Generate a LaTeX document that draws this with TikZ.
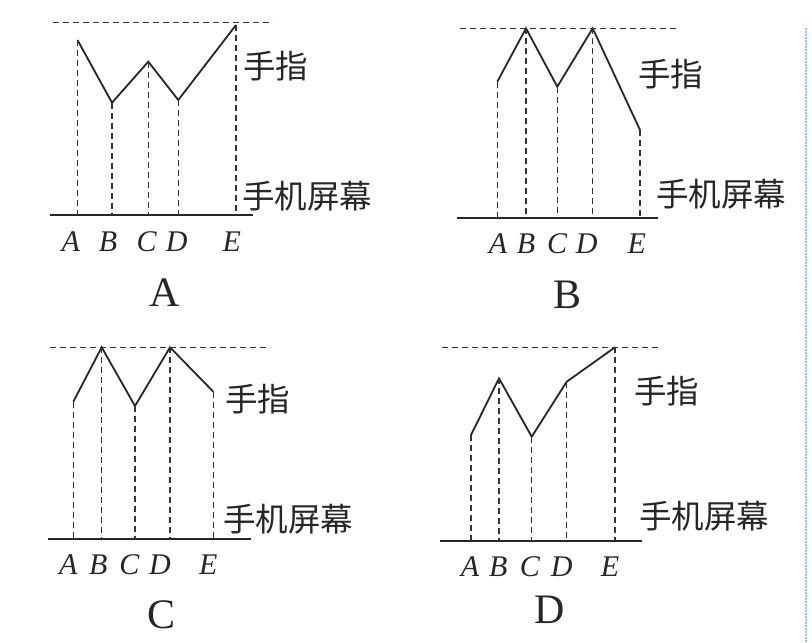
\documentclass[tikz,border=0pt]{standalone}
\usepackage{fontspec}
\setmainfont{Liberation Serif}
\newfontfamily\cjk{Noto Sans CJK SC}
\begin{document}
\begin{tikzpicture}[x=1pt,y=-1pt,
  finger/.style={line width=1.8pt,line join=miter,draw=black!85},
  guide/.style={dash pattern=on 6pt off 4pt,line width=1.5pt,draw=black!80},
  screen/.style={line width=2pt,draw=black!85},
  ptlab/.style={inner sep=0pt,font=\fontsize{30}{36}\selectfont\itshape,text=black!85},
  capt/.style={inner sep=0pt,font=\fontsize{42}{48}\selectfont,text=black!85},
  cjklab/.style={inner sep=0pt,anchor=west,font=\cjk\fontsize{32.5}{38}\selectfont,text=black!85},
  rimline/.style={dash pattern=on 1.5pt off 1.5pt,line width=1.2pt,draw=cyan!60!teal!50}]
\useasboundingbox (0,0) rectangle (812,643);
\fill[white] (0,0) rectangle (812,643);
% ---------- panel A ----------
\coordinate (aA) at (77.5,40); \coordinate (aB) at (112,102.7);
\coordinate (aC) at (148.3,61.7); \coordinate (aD) at (178.3,100);
\coordinate (aE) at (236,25);
\coordinate (atl) at (53,22.7); \coordinate (atr) at (273,22.7);
\coordinate (abl) at (50,215); \coordinate (abr) at (253,215);
\draw[guide] (atl) -- (atr);
\draw[finger] (aA) -- (aB) -- (aC) -- (aD) -- (aE);
\draw[screen] (abl) -- (abr);
\foreach \p in {A,B,C,D,E} \draw[guide] (a\p) -- (a\p |- abl);
\node[ptlab] (alA) at (70.7,241.7) {A};
\node[ptlab] (alB) at (108,241.7) {B};
\node[ptlab] (alC) at (146.7,241.7) {C};
\node[ptlab] (alD) at (176.7,241.7) {D};
\node[ptlab] (alE) at (231.7,241.7) {E};
\node[cjklab] (afin) at (243,66) {手指};
\node[cjklab] (ascr) at (242,196) {手机屏幕};
\node[capt] (acap) at (165,293) {A};
% ---------- panel B ----------
\coordinate (bA) at (497.3,81.7); \coordinate (bB) at (526,28.3);
\coordinate (bC) at (557.3,86.7); \coordinate (bD) at (592.7,28.3);
\coordinate (bE) at (640,130);
\coordinate (btl) at (460,28.3); \coordinate (btr) at (678,28.3);
\coordinate (bbl) at (456.7,218.3); \coordinate (bbr) at (658.3,218.3);
\draw[guide] (btl) -- (btr);
\draw[finger] (bA) -- (bB) -- (bC) -- (bD) -- (bE);
\draw[screen] (bbl) -- (bbr);
\foreach \p in {A,B,C,D,E} \draw[guide] (b\p) -- (b\p |- bbl);
\node[ptlab] (blA) at (498,243.3) {A};
\node[ptlab] (blB) at (526,243.3) {B};
\node[ptlab] (blC) at (557,243.3) {C};
\node[ptlab] (blD) at (586.7,243.3) {D};
\node[ptlab] (blE) at (636.7,243.3) {E};
\node[cjklab] (bfin) at (638,74) {手指};
\node[cjklab] (bscr) at (656,194) {手机屏幕};
\node[capt] (bcap) at (568,295) {B};
% ---------- panel C ----------
\coordinate (cA) at (73.3,401.7); \coordinate (cB) at (101.7,347.3);
\coordinate (cC) at (135,406); \coordinate (cD) at (170,347.3);
\coordinate (cE) at (213.3,391.7);
\coordinate (ctl) at (50,347.3); \coordinate (ctr) at (270,347.3);
\coordinate (cbl) at (48.3,539.3); \coordinate (cbr) at (250.7,539.3);
\draw[guide] (ctl) -- (ctr);
\draw[finger] (cA) -- (cB) -- (cC) -- (cD) -- (cE);
\draw[screen] (cbl) -- (cbr);
\foreach \p in {A,B,C,D,E} \draw[guide] (c\p) -- (c\p |- cbl);
\node[ptlab] (clA) at (68.3,565) {A};
\node[ptlab] (clB) at (98.3,565) {B};
\node[ptlab] (clC) at (129.3,565) {C};
\node[ptlab] (clD) at (160,565) {D};
\node[ptlab] (clE) at (208.3,565) {E};
\node[cjklab] (cfin) at (225,399) {手指};
\node[cjklab] (cscr) at (223,519) {手机屏幕};
\node[capt] (ccap) at (161.7,615) {C};
% ---------- panel D ----------
\coordinate (dA) at (471,435); \coordinate (dB) at (499,378.3);
\coordinate (dC) at (531.7,436.7); \coordinate (dD) at (566.7,381.7);
\coordinate (dE) at (615,347.3);
\coordinate (dtl) at (441.7,347.3); \coordinate (dtr) at (660,347.3);
\coordinate (dbl) at (440,540.7); \coordinate (dbr) at (641.7,540.7);
\draw[guide] (dtl) -- (dtr);
\draw[finger] (dA) -- (dB) -- (dC) -- (dD) -- (dE);
\draw[screen] (dbl) -- (dbr);
\foreach \p in {A,B,C,D,E} \draw[guide] (d\p) -- (d\p |- dbl);
\node[ptlab] (dlA) at (470,566.7) {A};
\node[ptlab] (dlB) at (498.3,566.7) {B};
\node[ptlab] (dlC) at (530,566.7) {C};
\node[ptlab] (dlD) at (561.7,566.7) {D};
\node[ptlab] (dlE) at (610,566.7) {E};
\node[cjklab] (dfin) at (634,391) {手指};
\node[cjklab] (dscr) at (639,516) {手机屏幕};
\node[capt] (dcap) at (550,610) {D};
% ---------- right edge ----------
\coordinate (e1) at (806,28); \coordinate (e2) at (806,643);
\draw[rimline] (e1) -- (e2);
\end{tikzpicture}
\end{document}
